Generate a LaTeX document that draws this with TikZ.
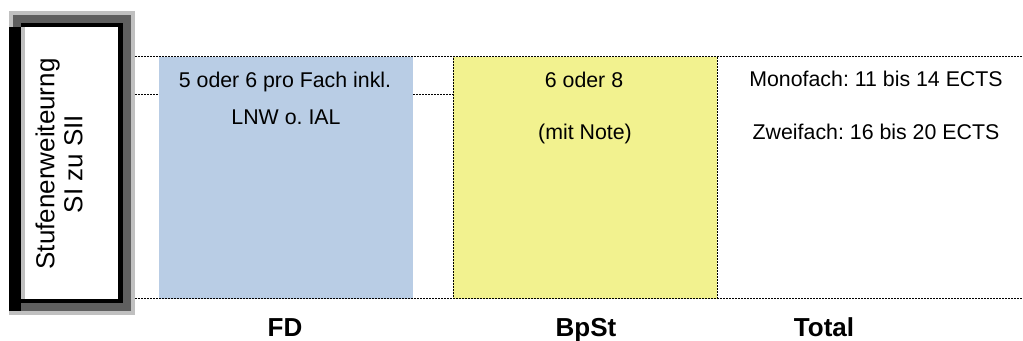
\documentclass[tikz,border=0pt]{standalone}
\usepackage{fontspec}
\setmainfont{Liberation Sans}
\frenchspacing
\definecolor{fdblue}{HTML}{B9CDE5}
\definecolor{bpyellow}{HTML}{F2F28F}
\definecolor{frameshade}{HTML}{5F5F5F}
\definecolor{frameedge}{HTML}{C0C0C0}
\begin{document}
\begin{tikzpicture}[x=0.75pt,y=-0.75pt,
        fine/.style={draw=black, line width=0.75pt, dash pattern=on 1.5pt off 0.75pt},
        column/.style={inner sep=0pt, outer sep=0pt, anchor=north west, minimum height=181.5pt},
        cell/.style={font=\fontsize{16}{18}\selectfont, anchor=base, inner sep=0pt},
        head/.style={font=\fontsize{19.5}{22}\selectfont\bfseries, anchor=base, inner sep=0pt},
    ]
    \useasboundingbox (0,0) rectangle (1023,341);

    \fill[frameedge] (9,11) rectangle (135,315);
    \fill[frameshade] (13,15) rectangle (131,311);
    \fill[black] (9,27) rectangle (21,311);
    \fill[black] (21,23) rectangle (123,303);
    \fill[frameedge] (21,27) rectangle (25,299);
    \fill[white] (25,27) rectangle (118,299);
    \node[rotate=90, align=center, inner sep=0pt, font=\fontsize{19.5}{21}\selectfont] (stage) at (59,164) {Stufenerweiteurng\\SI zu SII};

    \node[column, fill=fdblue, minimum width=190.5pt] (fd) at (159,57) {};
    \node[column, fill=bpyellow, fine, minimum width=198pt] (bpst) at (453,57) {};

    \coordinate (topl) at (135,57);
    \coordinate (topr) at (1023,57);
    \coordinate (botl) at (135,299);
    \coordinate (botr) at (1023,299);
    \coordinate (midl) at (135,95);
    \coordinate (midfd) at (159,95);
    \coordinate (midfdr) at (413,95);
    \coordinate (midbp) at (453,95);
    \draw[fine] (topl) -- (topr);
    \draw[fine] (botl) -- (botr);
    \draw[fine] (midl) -- (midfd);
    \draw[fine] (midfdr) -- (midbp);

    \node[cell] (fd1) at (285,88) {5 oder 6 pro Fach inkl.};
    \node[cell] (fd2) at (286,125) {LNW o. IAL};
    \node[cell] (bp1) at (584,88) {6 oder 8};
    \node[cell] (bp2) at (585,140) {(mit Note)};
    \node[cell] (tot1) at (876,87) {Monofach: 11 bis 14 ECTS};
    \node[cell] (tot2) at (876,140) {Zweifach: 16 bis 20 ECTS};

    \node[head] (fdlab) at (285,337) {FD};
    \node[head] (bplab) at (586,337) {BpSt};
    \node[head] (totlab) at (824,337) {Total};
\end{tikzpicture}
\end{document}
